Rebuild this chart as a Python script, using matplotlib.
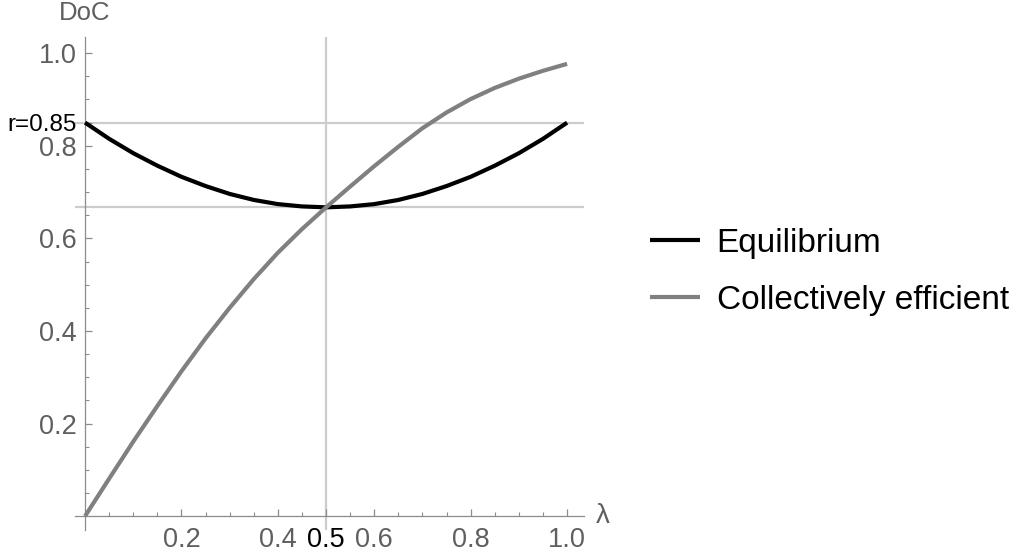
import matplotlib
matplotlib.use("Agg")
import matplotlib.pyplot as plt
import numpy as np

plt.rcParams['font.family'] = ['Liberation Sans', 'DejaVu Sans']

# lambda grid and curves
lam = [0.00, 0.05, 0.10, 0.15, 0.20, 0.25, 0.30, 0.35, 0.40, 0.45, 0.50,
       0.55, 0.60, 0.65, 0.70, 0.75, 0.80, 0.85, 0.90, 0.95, 1.00]
equilibrium = [0.850, 0.815, 0.784, 0.757, 0.733, 0.713, 0.696, 0.683, 0.674, 0.669, 0.667,
               0.669, 0.674, 0.683, 0.696, 0.713, 0.733, 0.757, 0.784, 0.815, 0.850]
collective = [0.000, 0.081, 0.161, 0.238, 0.313, 0.384, 0.450, 0.512, 0.569, 0.620, 0.667,
              0.712, 0.756, 0.798, 0.838, 0.872, 0.901, 0.925, 0.945, 0.962, 0.977]

r = 0.85
y_min = 0.667
lam_star = 0.5

major_ticks = [0.2, 0.4, 0.6, 0.8, 1.0]
minor_ticks = [0.05, 0.10, 0.15, 0.25, 0.30, 0.35, 0.45, 0.50, 0.55, 0.65, 0.70, 0.75, 0.85, 0.90, 0.95]

axis_col = '#8c8c8c'
label_col = '#5f5f5f'
grid_col = '#cccccc'

fig = plt.figure(figsize=(10.17, 5.58), dpi=100)
ax = fig.add_axes([0.0737, 0.0502, 0.5005, 0.8835])

# grid lines
ax.axhline(r, color=grid_col, lw=1.6, zorder=1)
ax.axhline(y_min, color=grid_col, lw=1.6, zorder=1)
ax.axvline(lam_star, color=grid_col, lw=1.6, zorder=1)

ax.plot(lam, equilibrium, color='black', lw=3, label='Equilibrium', zorder=3,
        solid_capstyle='butt')
ax.plot(lam, collective, color='#808080', lw=3, label='Collectively efficient', zorder=3,
        solid_capstyle='butt')

ax.set_xlim(-0.021, 1.035)
ax.set_ylim(-0.03, 1.035)

for s in ['top', 'right']:
    ax.spines[s].set_visible(False)
for s in ['left', 'bottom']:
    ax.spines[s].set_position(('data', 0))
    ax.spines[s].set_color(axis_col)
    ax.spines[s].set_linewidth(0.9)

ax.set_xticks(major_ticks + [lam_star])
ax.set_xticklabels(['0.2', '0.4', '0.6', '0.8', '1.0', '0.5'])
ax.set_yticks(major_ticks + [r])
ax.set_yticklabels(['0.2', '0.4', '0.6', '0.8', '1.0', 'r=0.85'])
ax.set_xticks(minor_ticks, minor=True)
ax.set_yticks([t for t in minor_ticks if t != r], minor=True)

ax.tick_params(which='major', direction='in', length=5, width=0.9, color=axis_col,
               labelcolor=label_col, labelsize=19.5)
ax.tick_params(which='minor', direction='in', length=3, width=0.8, color=axis_col)
ax.tick_params(axis='x', which='major', pad=8)
ax.tick_params(axis='y', which='major', pad=6)

ax.get_xticklabels()[-1].set_color('black')
r_lab = ax.get_yticklabels()[-1]
r_lab.set_color('black')
r_lab.set_fontsize(17.5)
r_lab.set_verticalalignment('center_baseline')

ax.text(0, 1.06, 'DoC', transform=ax.transData, ha='center', va='bottom',
        fontsize=18.5, color=label_col, clip_on=False)
ax.text(1.075, 0.0, 'λ', transform=ax.transData, ha='center', va='center',
        fontsize=20, color=label_col, clip_on=False)

ax.legend(loc='center left', bbox_to_anchor=(0.639, 0.513), bbox_transform=fig.transFigure,
          frameon=False, fontsize=24, handlelength=1.5, handletextpad=0.5,
          labelspacing=0.78, borderpad=0, borderaxespad=0)

fig.savefig('out.png', dpi=100)
